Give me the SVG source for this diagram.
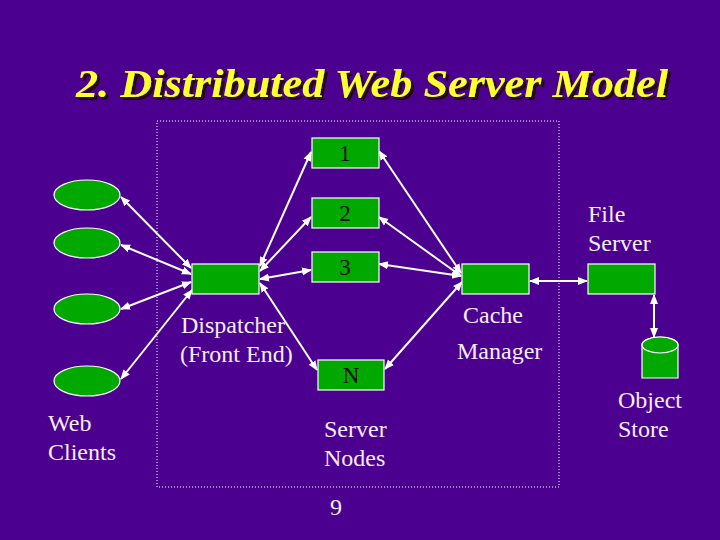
<svg xmlns="http://www.w3.org/2000/svg" width="720" height="540" viewBox="0 0 720 540">
<defs>
<style>
.bg{fill:#4b0090}
.box{fill:#00a800;stroke:#ffffff;stroke-width:1.2}
.lbl{font-size:24px;fill:#f4eefc}
.num{font-size:23px;fill:#111111;text-anchor:middle}
.title{font-size:41px;font-weight:bold;font-style:italic;fill:#ffff33}
.con{stroke:#ffffff;stroke-width:2;fill:none;marker-start:url(#ah);marker-end:url(#ah)}
</style>
<marker id="ah" viewBox="0 0 10 10" refX="9" refY="5" markerWidth="5" markerHeight="5" orient="auto-start-reverse" markerUnits="strokeWidth">
<path d="M0,1 L10,5 L0,9 Z" fill="#ffffff"/>
</marker>
<filter id="shadow" x="-5%" y="-20%" width="110%" height="150%">
<feDropShadow dx="3" dy="3" stdDeviation="0.6" flood-color="#20100a" flood-opacity="1"/>
</filter>
</defs>
<rect class="bg" x="0" y="0" width="720" height="540"/>
<g font-family="'Liberation Serif', Tinos, 'Times New Roman', serif">
<g id="title">
<text class="title" x="76" y="97" textLength="592" lengthAdjust="spacingAndGlyphs" filter="url(#shadow)">2. Distributed Web Server Model</text>
</g>
<rect id="server-area" x="157" y="121" width="402" height="366" fill="none" stroke="#ffffff" stroke-width="1" stroke-dasharray="1,2"/>
<g id="connectors">
<line class="con" x1="121" y1="197" x2="191" y2="268"/>
<line class="con" x1="121" y1="245" x2="191" y2="274"/>
<line class="con" x1="121" y1="309" x2="191" y2="282"/>
<line class="con" x1="121" y1="379" x2="192" y2="290"/>
<line class="con" x1="260" y1="266" x2="311" y2="152"/>
<line class="con" x1="260" y1="271" x2="311" y2="217"/>
<line class="con" x1="260" y1="279" x2="311" y2="270"/>
<line class="con" x1="260" y1="283" x2="317" y2="370"/>
<line class="con" x1="379" y1="151" x2="461" y2="273"/>
<line class="con" x1="379" y1="217" x2="461" y2="276"/>
<line class="con" x1="379" y1="264" x2="461" y2="276"/>
<line class="con" x1="385" y1="369" x2="462" y2="282"/>
<line class="con" x1="530" y1="281" x2="587" y2="281"/>
<line class="con" x1="654" y1="295" x2="654" y2="337"/>
</g>
<g id="client1"><ellipse class="box" cx="87" cy="195" rx="33" ry="15"/></g>
<g id="client2"><ellipse class="box" cx="87" cy="243" rx="33" ry="15"/></g>
<g id="client3"><ellipse class="box" cx="87" cy="309" rx="33" ry="15"/></g>
<g id="client4"><ellipse class="box" cx="87" cy="381" rx="33" ry="15"/></g>
<g id="web-clients-label"><text class="lbl" x="48" y="431">Web</text><text class="lbl" x="48" y="460">Clients</text></g>
<g id="dispatcher"><rect class="box" x="192" y="264" width="67" height="30"/>
<text class="lbl" x="181" y="333">Dispatcher</text><text class="lbl" x="180" y="362">(Front End)</text></g>
<g id="node1"><rect class="box" x="312" y="138" width="67" height="30"/><text class="num" x="345" y="161">1</text></g>
<g id="node2"><rect class="box" x="312" y="198" width="67" height="30"/><text class="num" x="345" y="221">2</text></g>
<g id="node3"><rect class="box" x="312" y="252" width="67" height="30"/><text class="num" x="345" y="275">3</text></g>
<g id="nodeN"><rect class="box" x="318" y="360" width="66" height="30"/><text class="num" x="351" y="383">N</text></g>
<g id="server-nodes-label"><text class="lbl" x="324" y="437">Server</text><text class="lbl" x="324" y="466">Nodes</text></g>
<g id="cache-manager"><rect class="box" x="462" y="264" width="67" height="30"/>
<text class="lbl" x="463" y="323">Cache</text><text class="lbl" x="457" y="359">Manager</text></g>
<g id="file-server"><rect class="box" x="588" y="264" width="67" height="30"/>
<text class="lbl" x="588" y="222">File</text><text class="lbl" x="588" y="251">Server</text></g>
<g id="object-store">
<path class="box" d="M642,345 L642,378 L678,378 L678,345 A18,8 0 0 0 642,345 Z"/>
<ellipse class="box" cx="660" cy="345" rx="18" ry="8"/>
<text class="lbl" x="618" y="408">Object</text><text class="lbl" x="618" y="437">Store</text></g>
<text class="lbl" x="336" y="515" text-anchor="middle">9</text>
</g>
</svg>
